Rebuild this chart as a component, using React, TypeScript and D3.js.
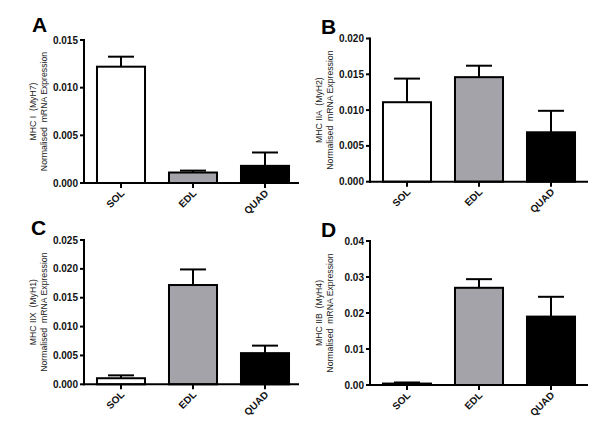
import React from "react";
import * as d3 from "d3";

const categories = ["SOL", "EDL", "QUAD"];
const panelLetters = ["A", "B", "C", "D"];
const geneLabels = ["MHC I  (MyH7)", "MHC IIA  (MyH2)", "MHC IIX  (MyH1)", "MHC IIB  (MyH4)"];
const meansA = [0.0122, 0.0011, 0.0018];
const errA = [0.00105, 0.0002, 0.0014];
const meansB = [0.0111, 0.0146, 0.0069];
const errB = [0.0033, 0.0016, 0.003];
const meansC = [0.00105, 0.0172, 0.0054];
const errC = [0.0005, 0.0027, 0.0013];
const meansD = [0.0004, 0.027, 0.019];
const errD = [0.0003, 0.0024, 0.0055];
const yMaxes = [0.015, 0.02, 0.025, 0.04];
const tickSteps = [0.005, 0.005, 0.005, 0.01];
const tickDecimals = [3, 3, 3, 2];
const fills = ["#ffffff", "#a3a3a9", "#000000"];

const panels = [
  { means: meansA, errs: errA, axisX: 84, yTop: 40, y0: 183, xEnd: 299, lx: 32, ly: 32 },
  { means: meansB, errs: errB, axisX: 370, yTop: 38.5, y0: 181.7, xEnd: 588, lx: 321, ly: 34 },
  { means: meansC, errs: errC, axisX: 84, yTop: 240, y0: 384.3, xEnd: 299, lx: 31, ly: 235 },
  { means: meansD, errs: errD, axisX: 370, yTop: 241, y0: 385, xEnd: 588, lx: 321, ly: 237 },
];

const FONT = "'Liberation Sans', Arial, sans-serif";

function Panel({ idx }: { idx: number }) {
  const p = panels[idx];
  const y = d3.scaleLinear().domain([0, yMaxes[idx]]).range([p.y0, p.yTop]);
  const x = d3
    .scaleBand<string>()
    .domain(categories)
    .range([p.axisX + 1, p.axisX + 217])
    .paddingInner(0.333)
    .paddingOuter(0.1665);
  const ticks = d3.range(0, yMaxes[idx] + 1e-9, tickSteps[idx]);
  const fmt = d3.format(`.${tickDecimals[idx]}f`);
  const midY = (p.y0 + p.yTop) / 2;
  const capHalf = 13;
  return (
    <g>
      <text x={p.lx} y={p.ly} fontFamily={FONT} fontWeight="bold" fontSize={21} fill="#000">
        {panelLetters[idx]}
      </text>
      {/* axis title */}
      <g transform={`translate(${p.axisX - 48},${midY}) rotate(-90)`}>
        <text x={0} y={0} textAnchor="middle" fontFamily={FONT} fontSize={8.7} fill="#222" style={{ whiteSpace: "pre" }}>
          {geneLabels[idx]}
        </text>
        <text x={0} y={11} textAnchor="middle" fontFamily={FONT} fontSize={8.7} fill="#222" style={{ whiteSpace: "pre" }}>
          {"Normalised  mRNA Expression"}
        </text>
      </g>
      {/* bars */}
      {categories.map((c, i) => {
        const bx = x(c)!;
        const top = y(p.means[i]);
        const et = y(p.means[i] + p.errs[i]);
        const cx = bx + x.bandwidth() / 2;
        return (
          <g key={c}>
            <line x1={cx} x2={cx} y1={top} y2={et} stroke="#000" strokeWidth={2} />
            <line x1={cx - capHalf} x2={cx + capHalf} y1={et} y2={et} stroke="#000" strokeWidth={2} />
            <rect
              x={bx}
              y={top}
              width={x.bandwidth()}
              height={p.y0 - top}
              fill={fills[i]}
              stroke="#000"
              strokeWidth={2}
            />
          </g>
        );
      })}
      {/* y axis */}
      <line x1={p.axisX} x2={p.axisX} y1={p.yTop - 1} y2={p.y0 + 1} stroke="#000" strokeWidth={2} />
      {ticks.map((t) => (
        <g key={t}>
          <line x1={p.axisX - 4} x2={p.axisX} y1={y(t)} y2={y(t)} stroke="#000" strokeWidth={2} />
          <text
            x={p.axisX - 6}
            y={y(t)}
            dy="0.35em"
            textAnchor="end"
            fontFamily={FONT}
            fontWeight="bold"
            fontSize={10}
            fill="#111"
          >
            {fmt(t)}
          </text>
        </g>
      ))}
      {/* x axis */}
      <line x1={p.axisX - 1} x2={p.xEnd} y1={p.y0} y2={p.y0} stroke="#000" strokeWidth={2} />
      {categories.map((c) => {
        const cx = x(c)! + x.bandwidth() / 2;
        return (
          <g key={c}>
            <line x1={cx} x2={cx} y1={p.y0} y2={p.y0 + 5} stroke="#000" strokeWidth={2} />
            <text
              transform={`translate(${cx + 4},${p.y0 + 11}) rotate(-45)`}
              textAnchor="end"
              fontFamily={FONT}
              fontWeight="bold"
              fontSize={10}
              fill="#111"
            >
              {c}
            </text>
          </g>
        );
      })}
    </g>
  );
}

export default function App() {
  return (
    <svg width={600} height={431} style={{ position: "absolute", left: 0, top: 0, background: "#fff" }}>
      <rect width={600} height={431} fill="#fff" />
      {[0, 1, 2, 3].map((i) => (
        <Panel key={i} idx={i} />
      ))}
    </svg>
  );
}
